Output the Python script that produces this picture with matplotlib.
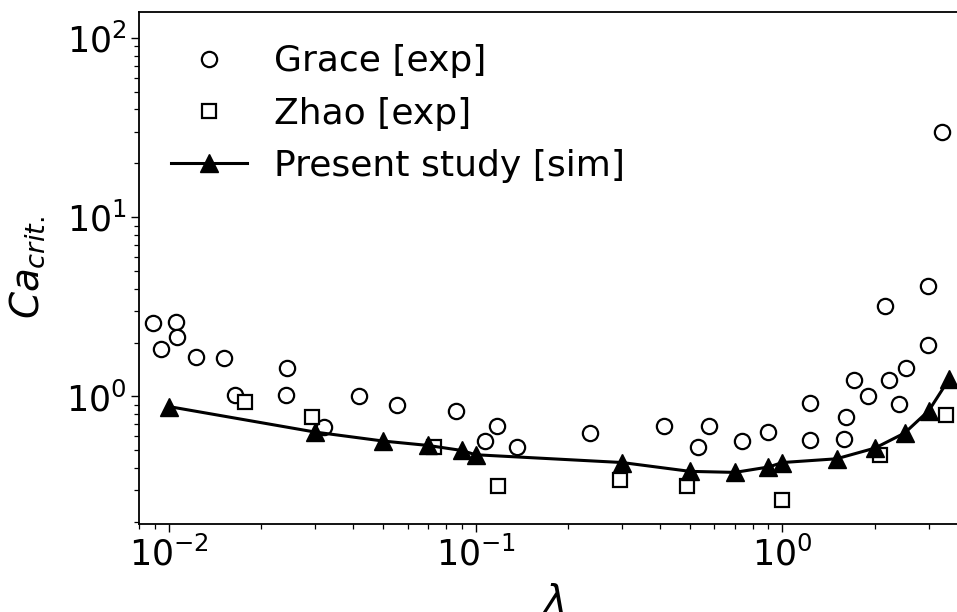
import matplotlib
matplotlib.use("Agg")
import matplotlib.pyplot as plt

# Grace [exp]: viscosity ratio and critical capillary number
grace_lam = [0.00889, 0.00947, 0.01054, 0.01067, 0.01227, 0.01514, 0.01645,
             0.0243, 0.0242, 0.0321, 0.0418, 0.0553, 0.0866, 0.1072, 0.1172,
             0.1362, 0.236, 0.410, 0.530, 0.576, 0.739, 0.894, 1.225, 1.225,
             1.609, 1.589, 1.709, 1.902, 2.161, 2.223, 2.401, 2.530, 2.972,
             2.985, 3.30]
grace_ca = [2.57, 1.85, 2.59, 2.15, 1.66, 1.64, 1.02,
            1.45, 1.02, 0.677, 1.01, 0.902, 0.825, 0.564, 0.680,
            0.522, 0.622, 0.686, 0.522, 0.680, 0.566, 0.630, 0.919, 0.571,
            0.764, 0.578, 1.24, 1.01, 3.21, 1.24, 0.907, 1.446, 1.935,
            4.16, 29.9]

# Zhao [exp]
zhao_lam = [0.01778, 0.0292, 0.0732, 0.118, 0.296, 0.487, 1.0, 2.073, 3.41]
zhao_ca = [0.931, 0.764, 0.524, 0.315, 0.343, 0.315, 0.263, 0.473, 0.79]

# Present study [sim]
sim_lam = [0.01, 0.03, 0.05, 0.07, 0.09, 0.1, 0.3, 0.5, 0.7, 0.9, 1.0,
           1.5, 2.0, 2.5, 3.0, 3.5]
sim_ca = [0.879, 0.633, 0.564, 0.533, 0.500, 0.473, 0.428, 0.382, 0.377,
          0.404, 0.428, 0.449, 0.515, 0.625, 0.835, 1.26]

plt.rcParams["font.family"] = "DejaVu Sans"
plt.rcParams["mathtext.fontset"] = "dejavusans"

fig = plt.figure(figsize=(9.57, 6.12), dpi=100)
ax = fig.add_axes([0.1452, 0.1443, 0.8655, 0.8361])

ax.plot(grace_lam, grace_ca, linestyle="none", marker="o", markersize=11,
        markerfacecolor="white", markeredgecolor="black", markeredgewidth=1.6,
        label="Grace [exp]")
ax.plot(zhao_lam, zhao_ca, linestyle="none", marker="s", markersize=10.5,
        markerfacecolor="white", markeredgecolor="black", markeredgewidth=1.6,
        label="Zhao [exp]")
ax.plot(sim_lam, sim_ca, color="black", linewidth=2.2, marker="^",
        markersize=12.5, markerfacecolor="black", markeredgecolor="black",
        label="Present study [sim]")

ax.set_xscale("log")
ax.set_yscale("log")
ax.set_xlim(0.008, 4.0)
ax.set_ylim(0.195, 140)

ax.set_xlabel(r"$\lambda$", fontsize=28, labelpad=8)
ax.set_ylabel(r"$Ca_{crit.}$", fontsize=28, labelpad=14)

ax.tick_params(axis="both", which="major", labelsize=25, length=5.5,
               width=1.0, direction="out")
ax.tick_params(axis="both", which="minor", length=3.5, width=0.9,
               direction="out")
ax.tick_params(top=False, right=False, which="both")
for side in ax.spines.values():
    side.set_linewidth(1.3)

ax.legend(loc="upper left", frameon=False, fontsize=26, handlelength=2.1,
          borderaxespad=0.5, labelspacing=0.5, handletextpad=0.75)

fig.savefig("out.png", dpi=100)
